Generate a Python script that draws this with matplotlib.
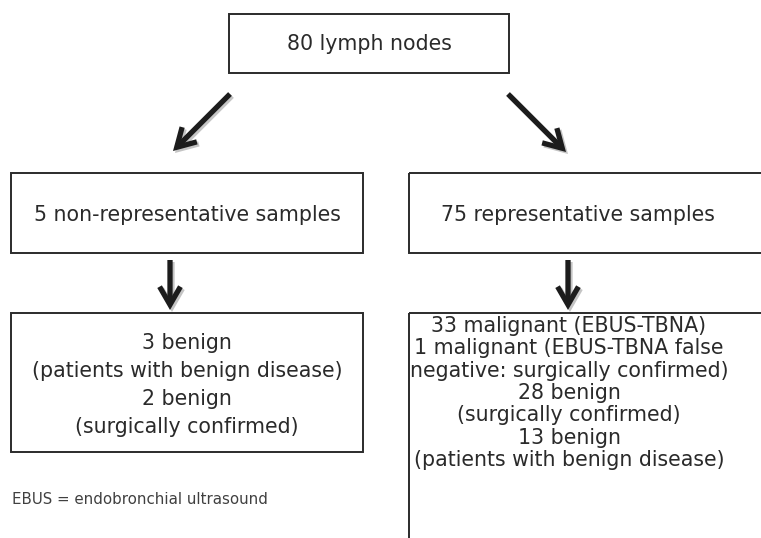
import matplotlib
matplotlib.use("Agg")
import matplotlib.pyplot as plt
from matplotlib.patches import Rectangle, FancyArrowPatch

# flowchart content
top_label = "80 lymph nodes"
mid_labels = ["5 non-representative samples", "75 representative samples"]
left_lines = ["3 benign", "(patients with benign disease)",
              "2 benign", "(surgically confirmed)"]
right_lines = ["33 malignant (EBUS-TBNA)", "1 malignant (EBUS-TBNA false",
               "negative: surgically confirmed)", "28 benign",
               "(surgically confirmed)", "13 benign",
               "(patients with benign disease)"]
footnote = "EBUS = endobronchial ultrasound"

W, H = 761, 538
fig = plt.figure(figsize=(W / 100, H / 100), dpi=100)
ax = fig.add_axes([0, 0, 1, 1])
ax.set_xlim(0, W)
ax.set_ylim(H, 0)
ax.axis("off")

txt_col = "#2a2a2a"
box_col = "#2b2b2b"
fs = 14.8


def box(x0, y0, x1, y1):
    ax.add_patch(Rectangle((x0, y0), x1 - x0, y1 - y0, fill=False,
                           edgecolor=box_col, linewidth=1.4, clip_on=True))


def arrow(p0, p1):
    # light shadow first, then the arrow
    for dx, col in [(2.0, "#c4c4c4"), (0, "#1c1c1c")]:
        a = FancyArrowPatch((p0[0] + dx, p0[1] + dx), (p1[0] + dx, p1[1] + dx),
                            arrowstyle="->,head_length=13,head_width=7.5",
                            mutation_scale=1, linewidth=3.8, color=col,
                            shrinkA=0, shrinkB=0, joinstyle="miter",
                            capstyle="butt")
        ax.add_patch(a)


# top box
box(229, 14, 509, 73)
ax.text(369, 44, top_label, ha="center", va="center", fontsize=fs, color=txt_col)

# diagonal arrows
arrow((230, 94), (173, 151))
arrow((508, 94), (566, 152))

# middle boxes
box(11, 173, 363, 253)
box(409, 173, 775, 253)
ax.text(187, 215, mid_labels[0], ha="center", va="center", fontsize=fs, color=txt_col)
ax.text(578, 215, mid_labels[1], ha="center", va="center", fontsize=fs, color=txt_col)

# vertical arrows
arrow((170, 260), (170, 310))
arrow((568, 260), (568, 310))

# bottom boxes
box(11, 313, 363, 452)
box(409, 313, 775, 560)
for i, s in enumerate(left_lines):
    ax.text(187, 343 + i * 28, s, ha="center", va="center", fontsize=fs, color=txt_col)
for i, s in enumerate(right_lines):
    ax.text(569, 326 + i * 22.3, s, ha="center", va="center", fontsize=fs, color=txt_col)

ax.text(12, 499, footnote, ha="left", va="center", fontsize=10.8, color="#404040")

fig.savefig("out.png", dpi=100)
